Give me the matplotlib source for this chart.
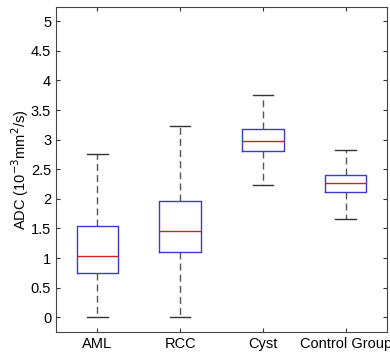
import matplotlib
matplotlib.use("Agg")
import matplotlib.pyplot as plt

plt.rcParams['font.family'] = ['Liberation Sans', 'DejaVu Sans']

groups = ["AML", "RCC", "Cyst", "Control Group"]
whisker_low = [0.0, 0.0, 2.23, 1.66]
q1 = [0.75, 1.10, 2.80, 2.11]
median = [1.03, 1.46, 2.97, 2.26]
q3 = [1.54, 1.96, 3.18, 2.40]
whisker_high = [2.75, 3.23, 3.75, 2.83]
yticks = [0, 0.5, 1, 1.5, 2, 2.5, 3, 3.5, 4, 4.5, 5]

stats = [
    dict(label=g, whislo=lo, q1=a, med=m, q3=b, whishi=hi, fliers=[])
    for g, lo, a, m, b, hi in zip(groups, whisker_low, q1, median, q3, whisker_high)
]

fig = plt.figure(figsize=(3.9, 3.53), dpi=100)
ax = fig.add_axes([56 / 390, 21 / 353, 331 / 390, 325 / 353])

ax.bxp(
    stats,
    positions=range(1, len(groups) + 1),
    widths=0.5,
    capwidths=0.25,
    showfliers=False,
    boxprops=dict(color="#3a3acc", linewidth=1.0),
    medianprops=dict(color="#d42020", linewidth=1.0),
    whiskerprops=dict(color="#555555", linewidth=1.0, linestyle=(0, (5, 3))),
    capprops=dict(color="#333333", linewidth=1.0),
)

ax.set_xlim(0.5, 4.5)
ax.set_ylim(-0.25, 5.24)
ax.set_yticks(yticks)
ax.set_yticklabels([f"{t:g}" for t in yticks])
ax.set_xticks(range(1, len(groups) + 1))
ax.set_xticklabels(groups)
ax.tick_params(direction="in", top=True, right=True, labelsize=10.5,
               length=3, width=0.8, colors="#333333", labelcolor="black")
for s in ax.spines.values():
    s.set_color("#444444")
    s.set_linewidth(0.8)

ax.set_ylabel("ADC (10$^{-3}$mm$^{2}$/s)", fontsize=10.5, labelpad=0)

fig.savefig("out.png", dpi=100)
